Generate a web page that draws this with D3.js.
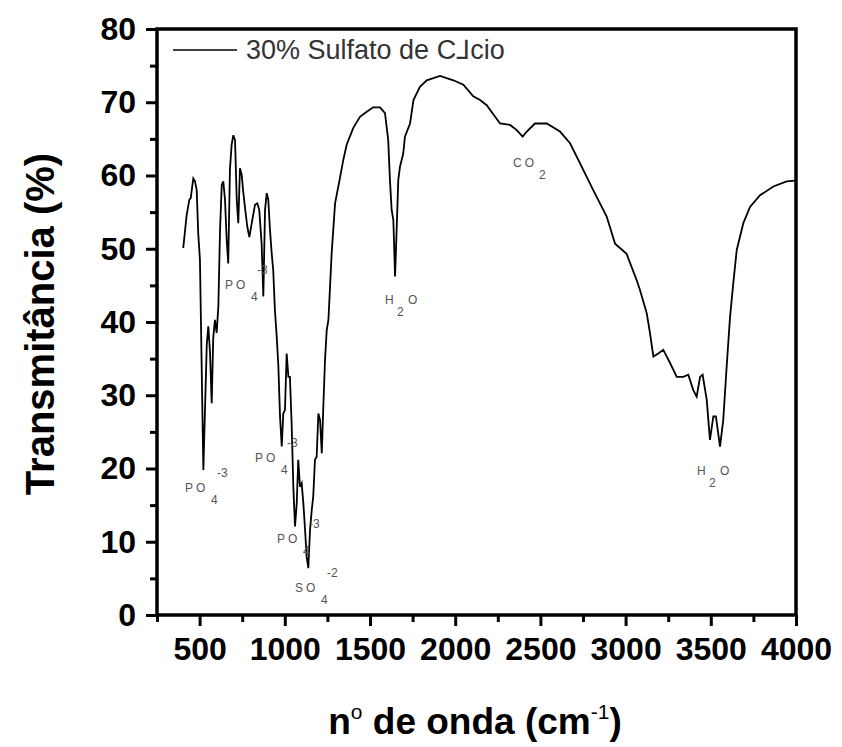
<!DOCTYPE html>
<html>
<head>
<meta charset="utf-8">
<script src="https://cdn.jsdelivr.net/npm/d3@7"></script>
<style>
  body { margin: 0; background: #fff; }
  text { font-family: "Liberation Sans", Arial, sans-serif; }
  .tick text { font-weight: bold; fill: #000; }
  .note { font-size: 12px; fill: #555; letter-spacing: 3px; }
  .noteSmall { font-size: 12px; fill: #555; }
</style>
</head>
<body>
<div id="chart"></div>
<script>
// FTIR spectrum, 30% calcium sulphate
var waveNumber = [404, 424, 440, 448, 463, 473, 483, 492, 502, 522, 532, 542, 551, 561, 571, 580, 590, 600, 610, 620,
  630, 639, 649, 659, 668, 678, 688, 698, 708, 718, 727, 737, 747, 756, 766, 780, 792, 806, 825, 839,
  850, 864, 874, 884, 894, 903, 913, 923, 932, 942, 952, 962, 972, 982, 991, 1001, 1011, 1021, 1030, 1040,
  1050, 1060, 1070, 1079, 1089, 1099, 1109, 1119, 1128, 1138, 1148, 1158, 1167, 1177, 1187, 1197, 1207, 1217, 1226, 1236,
  1246, 1256, 1275, 1295, 1324, 1343, 1363, 1402, 1441, 1481, 1519, 1559, 1588, 1607, 1617, 1627, 1637, 1647, 1657, 1666,
  1676, 1695, 1705, 1735, 1755, 1793, 1833, 1911, 1989, 2048, 2106, 2146, 2185, 2263, 2322, 2361, 2396, 2420, 2468, 2537,
  2615, 2674, 2732, 2810, 2889, 2938, 3006, 3065, 3084, 3124, 3143, 3163, 3192, 3221, 3261, 3300, 3339, 3368, 3397, 3417,
  3437, 3452, 3476, 3495, 3515, 3530, 3554, 3573, 3593, 3613, 3632, 3652, 3691, 3730, 3789, 3867, 3945, 3994];
var transmit = [50.1, 54.6, 56.7, 56.9, 59.6, 59.2, 58.0, 52.1, 48.5, 19.8, 28.3, 36.9, 39.4, 35.9, 28.9, 37.8, 40.3, 38.5, 42.1, 52.6,
  58.7, 59.2, 56.7, 51.2, 48.0, 60.8, 64.2, 65.5, 64.8, 56.7, 53.5, 61.0, 60.1, 57.8, 55.7, 53.0, 51.6, 53.5, 56.0, 56.2,
  55.3, 50.7, 43.5, 55.3, 57.6, 56.7, 52.6, 49.4, 47.1, 41.6, 38.2, 34.1, 27.1, 23.0, 27.5, 28.0, 35.7, 32.5, 32.5, 26.2,
  17.5, 12.1, 15.2, 21.2, 17.5, 18.0, 15.2, 11.6, 8.0, 6.4, 11.6, 14.3, 16.2, 21.2, 21.6, 27.5, 26.6, 22.1, 28.4, 34.8,
  38.9, 40.3, 49.4, 56.2, 59.7, 62.1, 64.2, 66.5, 68.0, 68.7, 69.3, 69.3, 68.5, 64.8, 59.4, 55.3, 53.9, 46.2, 53.0, 59.4,
  61.2, 63.0, 65.3, 67.1, 70.3, 72.1, 73.0, 73.6, 73.0, 72.4, 70.8, 70.3, 69.6, 67.1, 66.9, 66.2, 65.3, 66.0, 67.1, 67.1,
  66.0, 64.4, 61.7, 58.0, 54.4, 50.7, 49.3, 45.7, 44.4, 41.2, 38.5, 35.3, 35.7, 36.2, 34.4, 32.5, 32.5, 32.8, 30.7, 29.8,
  32.5, 32.8, 29.4, 23.9, 27.1, 27.1, 23.0, 26.6, 33.9, 40.7, 45.3, 49.8, 53.5, 55.7, 57.3, 58.5, 59.2, 59.3];

var xTicks = [500, 1000, 1500, 2000, 2500, 3000, 3500, 4000];
var xMinorTicks = [250, 750, 1250, 1750, 2250, 2750, 3250, 3750];
var yTicks = [0, 10, 20, 30, 40, 50, 60, 70, 80];
var yMinorTicks = [5, 15, 25, 35, 45, 55, 65, 75];

var legendLabel = "30% Sulfato de C\u2143cio";

// band labels: base text, subscript, superscript, anchor (wavenumber, %)
var bandNames = ["PO", "PO", "PO", "PO", "SO", "H", "CO", "H"];
var bandSubs = ["4", "4", "4", "4", "4", "2", "2", "2"];
var bandSups = ["-3", "-3", "-3", "-3", "-2", "", "", ""];
var bandTails = ["", "", "", "", "", "O", "", "O"];
var bandWave = [414, 649, 825, 954, 1060, 1588, 2339, 3419];
var bandT = [16.8, 44.5, 20.9, 9.8, 3.1, 42.5, 61.2, 19.1];

var margin = {top: 29, right: 46, bottom: 132, left: 157},
    width = 842 - margin.left - margin.right,
    height = 747 - margin.top - margin.bottom;

var svg = d3.select("#chart").append("svg")
  .attr("width", 842)
  .attr("height", 747);
var chartGroup = svg.append("g")
  .attr("transform", "translate(" + margin.left + "," + margin.top + ")");

var xScale = d3.scaleLinear().domain([250, 4000]).range([0, width]);
var yScale = d3.scaleLinear().domain([0, 80]).range([height, 0]);

// minor ticks first
var xMinor = chartGroup.append("g")
  .attr("transform", `translate(0, ${height})`)
  .call(d3.axisBottom(xScale).tickValues(xMinorTicks).tickSize(7).tickFormat(""));
var yMinor = chartGroup.append("g")
  .call(d3.axisLeft(yScale).tickValues(yMinorTicks).tickSize(7).tickFormat(""));

var xAxis = chartGroup.append("g")
  .attr("transform", `translate(0, ${height})`)
  .call(d3.axisBottom(xScale).tickValues(xTicks).tickSize(11).tickPadding(11).tickFormat(d3.format("d")));
xAxis.selectAll("text").style("font-size", "32px");

var yAxis = chartGroup.append("g")
  .call(d3.axisLeft(yScale).tickValues(yTicks).tickSize(11).tickPadding(10));
yAxis.selectAll("text").style("font-size", "32px");

[xMinor, yMinor, xAxis, yAxis].forEach(function(a) {
  a.select(".domain").remove();
  a.selectAll(".tick line").attr("stroke", "#000").attr("stroke-width", 3);
});

// frame
chartGroup.append("rect")
  .attr("width", width)
  .attr("height", height)
  .attr("fill", "none")
  .attr("stroke", "#000")
  .attr("stroke-width", 3.5);

// spectrum
var spectrum = waveNumber.map(function(w, i) { return {w: w, t: transmit[i]}; });
var line = d3.line()
  .x(function(d) { return xScale(d.w); })
  .y(function(d) { return yScale(d.t); });
chartGroup.append("path")
  .datum(spectrum)
  .attr("fill", "none")
  .attr("stroke", "#000")
  .attr("stroke-width", 1.8)
  .attr("d", line);

// legend
chartGroup.append("line")
  .attr("x1", 16).attr("x2", 80)
  .attr("y1", 21).attr("y2", 21)
  .attr("stroke", "#000").attr("stroke-width", 1.5);
chartGroup.append("text")
  .attr("x", 89).attr("y", 30)
  .style("font-size", "27px").style("fill", "#333")
  .text(legendLabel);

// band annotations
bandNames.forEach(function(name, i) {
  var g = chartGroup.append("g")
    .attr("transform", "translate(" + xScale(bandWave[i]) + "," + yScale(bandT[i]) + ")");
  if (bandTails[i]) {
    // H2O style: H, subscript 2, O
    g.append("text").attr("class", "note").attr("x", 0).attr("y", 0).text(name);
    g.append("text").attr("class", "noteSmall").attr("x", 12).attr("y", 12).text(bandSubs[i]);
    g.append("text").attr("class", "noteSmall").attr("x", 23).attr("y", 0).text(bandTails[i]);
  } else {
    g.append("text").attr("class", "note").attr("x", 0).attr("y", 0).text(name);
    g.append("text").attr("class", "noteSmall").attr("x", 26).attr("y", 12).text(bandSubs[i]);
    if (bandSups[i]) {
      g.append("text").attr("class", "noteSmall").attr("x", 32).attr("y", -15).text(bandSups[i]);
    }
  }
});

// axis titles
var xTitle = svg.append("text")
  .attr("x", 475).attr("y", 734)
  .attr("text-anchor", "middle")
  .style("font-size", "37px").style("font-weight", "bold");
xTitle.append("tspan").text("n");
xTitle.append("tspan").attr("dy", -15).style("font-size", "21px").style("font-weight", "normal").text("o");
xTitle.append("tspan").attr("dy", 15).text(" de onda (cm");
xTitle.append("tspan").attr("dy", -15).style("font-size", "21px").style("font-weight", "normal").text("-1");
xTitle.append("tspan").attr("dy", 15).text(")");

svg.append("text")
  .attr("transform", "translate(54, 324) rotate(-90)")
  .attr("text-anchor", "middle")
  .style("font-size", "40px").style("font-weight", "bold")
  .text("Transmit\u00e2ncia (%)");
</script>
</body>
</html>
